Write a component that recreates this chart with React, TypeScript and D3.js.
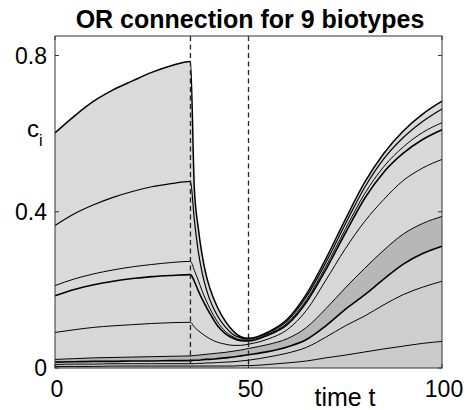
import { useRef, useEffect } from 'react'
import * as d3 from 'd3'

// sample times
const times = [0, 5, 10, 15, 20, 25, 30, 35, 36, 37, 38, 39, 40, 42, 44, 46, 48, 50, 55, 60, 65, 70, 75, 80, 85, 90, 95, 100]

// stacked levels (cumulative c_i), bottom biotype first
const level1 = [0.004, 0.004, 0.004, 0.005, 0.005, 0.005, 0.005, 0.005, 0.005, 0.005, 0.005, 0.005, 0.005, 0.005, 0.005, 0.005, 0.006, 0.006, 0.009, 0.013, 0.018, 0.026, 0.033, 0.041, 0.049, 0.056, 0.063, 0.068]
const level2 = [0.009, 0.01, 0.01, 0.011, 0.011, 0.011, 0.011, 0.011, 0.011, 0.012, 0.012, 0.013, 0.013, 0.014, 0.015, 0.016, 0.018, 0.02, 0.028, 0.038, 0.053, 0.079, 0.108, 0.133, 0.162, 0.188, 0.207, 0.222]
const level3 = [0.015, 0.016, 0.017, 0.017, 0.018, 0.018, 0.019, 0.019, 0.02, 0.02, 0.021, 0.022, 0.022, 0.024, 0.026, 0.028, 0.031, 0.034, 0.042, 0.054, 0.073, 0.108, 0.15, 0.187, 0.228, 0.266, 0.293, 0.312]
const level4 = [0.022, 0.024, 0.026, 0.027, 0.028, 0.029, 0.03, 0.031, 0.032, 0.033, 0.034, 0.035, 0.036, 0.038, 0.04, 0.043, 0.046, 0.05, 0.06, 0.075, 0.104, 0.152, 0.205, 0.255, 0.302, 0.343, 0.37, 0.388]
const level5 = [0.091, 0.098, 0.104, 0.108, 0.111, 0.114, 0.116, 0.117, 0.105, 0.096, 0.088, 0.081, 0.075, 0.066, 0.061, 0.058, 0.058, 0.061, 0.074, 0.098, 0.148, 0.225, 0.305, 0.375, 0.432, 0.48, 0.512, 0.534]
const level6 = [0.185, 0.201, 0.213, 0.222, 0.229, 0.234, 0.237, 0.239, 0.222, 0.198, 0.177, 0.158, 0.14, 0.108, 0.088, 0.076, 0.07, 0.069, 0.084, 0.111, 0.169, 0.252, 0.345, 0.434, 0.502, 0.55, 0.585, 0.61]
const level7 = [0.211, 0.228, 0.241, 0.251, 0.259, 0.265, 0.27, 0.273, 0.25, 0.225, 0.198, 0.174, 0.153, 0.118, 0.094, 0.08, 0.072, 0.071, 0.087, 0.115, 0.175, 0.26, 0.355, 0.446, 0.516, 0.566, 0.603, 0.628]
const level8 = [0.365, 0.395, 0.418, 0.437, 0.452, 0.464, 0.472, 0.478, 0.38, 0.3, 0.245, 0.205, 0.175, 0.133, 0.105, 0.086, 0.077, 0.074, 0.09, 0.12, 0.183, 0.27, 0.368, 0.462, 0.536, 0.59, 0.631, 0.663]
const level9 = [0.602, 0.645, 0.683, 0.712, 0.735, 0.757, 0.774, 0.785, 0.46, 0.36, 0.29, 0.24, 0.205, 0.155, 0.12, 0.095, 0.08, 0.076, 0.092, 0.125, 0.19, 0.28, 0.38, 0.475, 0.55, 0.607, 0.65, 0.683]

const levels = [level1, level2, level3, level4, level5, level6, level7, level8, level9]

const bandFills = ['#cbcbcb', '#cecece', '#d1d1d1', '#b7b7b7', '#d7d7d7', '#d9d9d9', '#dadada', '#dadada', '#dadada']
const lineWidths = [1, 1, 1.6, 1, 1, 1.6, 1, 1.2, 1.5]

const xTicks = [0, 50, 100]
const yTicks = [0, 0.4, 0.8]
const yTickLabels = ['0', '0.4', '0.8']
const switchTimes = [35, 50]

const font = 'Liberation Sans, Arial, Helvetica, sans-serif'

function drawChart(target) {
  const svg = d3.select(target)
  svg.selectAll('*').remove()

  const x = d3.scaleLinear().domain([0, 100]).range([55, 442])
  const y = d3.scaleLinear().domain([0, 0.85]).range([368, 36])

  const bands = svg.append('g').attr('class', 'bands')
  levels.forEach((lv, k) => {
    const area = d3
      .area()
      .x((d, i) => x(times[i]))
      .y0((d, i) => (k === 0 ? y(0) : y(levels[k - 1][i])))
      .y1((d) => y(d))
      .curve(d3.curveMonotoneX)
    bands.append('path').attr('d', area(lv)).attr('fill', bandFills[k]).attr('stroke', 'none')
  })

  const lines = svg.append('g').attr('class', 'lines')
  levels.forEach((lv, k) => {
    const line = d3
      .line()
      .x((d, i) => x(times[i]))
      .y((d) => y(d))
      .curve(d3.curveMonotoneX)
    lines
      .append('path')
      .attr('d', line(lv))
      .attr('fill', 'none')
      .attr('stroke', '#000')
      .attr('stroke-width', lineWidths[k])
  })

  svg
    .append('g')
    .selectAll('line')
    .data(switchTimes)
    .enter()
    .append('line')
    .attr('x1', (d) => x(d))
    .attr('x2', (d) => x(d))
    .attr('y1', y.range()[1])
    .attr('y2', y.range()[0])
    .attr('stroke', '#222')
    .attr('stroke-width', 1.3)
    .attr('stroke-dasharray', '5,3.5')

  // frame
  svg
    .append('rect')
    .attr('x', x(0))
    .attr('y', y.range()[1])
    .attr('width', x(100) - x(0))
    .attr('height', y.range()[0] - y.range()[1])
    .attr('fill', 'none')
    .attr('stroke', '#333')
    .attr('stroke-width', 1)

  // inward ticks
  const ticks = svg.append('g').attr('stroke', '#333').attr('stroke-width', 1)
  yTicks.forEach((t) => {
    ticks.append('line').attr('x1', x(0)).attr('x2', x(0) + 4).attr('y1', y(t)).attr('y2', y(t))
    ticks.append('line').attr('x1', x(100)).attr('x2', x(100) - 4).attr('y1', y(t)).attr('y2', y(t))
  })
  xTicks.forEach((t) => {
    ticks.append('line').attr('x1', x(t)).attr('x2', x(t)).attr('y1', y(0)).attr('y2', y(0) - 4)
    ticks.append('line').attr('x1', x(t)).attr('x2', x(t)).attr('y1', y.range()[1]).attr('y2', y.range()[1] + 4)
  })

  svg
    .append('g')
    .selectAll('text')
    .data(yTicks)
    .enter()
    .append('text')
    .attr('x', 47)
    .attr('y', (d) => y(d))
    .attr('dy', '0.36em')
    .attr('text-anchor', 'end')
    .attr('font-family', font)
    .attr('font-size', 23)
    .text((d, i) => yTickLabels[i])

  svg
    .append('g')
    .selectAll('text')
    .data(xTicks)
    .enter()
    .append('text')
    .attr('x', (d) => x(d) + 2)
    .attr('y', 397)
    .attr('text-anchor', 'middle')
    .attr('font-family', font)
    .attr('font-size', 23)
    .text((d) => d)

  svg
    .append('text')
    .attr('x', 345)
    .attr('y', 406)
    .attr('text-anchor', 'middle')
    .attr('font-family', font)
    .attr('font-size', 25)
    .text('time t')

  const ci = svg.append('text').attr('x', 27).attr('y', 137).attr('font-family', font).attr('font-size', 24)
  ci.append('tspan').text('c')
  ci.append('tspan').attr('font-size', 16).attr('dy', 9).text('i')

  svg
    .append('text')
    .attr('x', 250)
    .attr('y', 28)
    .attr('text-anchor', 'middle')
    .attr('font-family', font)
    .attr('font-size', 25)
    .attr('font-weight', 'bold')
    .text('OR connection for 9 biotypes')
}

export default function App() {
  const targetSVG = useRef(null)

  useEffect(() => {
    drawChart(targetSVG.current)
  }, [])

  return (
    <div>
      <svg ref={targetSVG} width={468} height={410} style={{ position: 'absolute', left: 0, top: 0, background: '#fff' }} />
    </div>
  )
}
